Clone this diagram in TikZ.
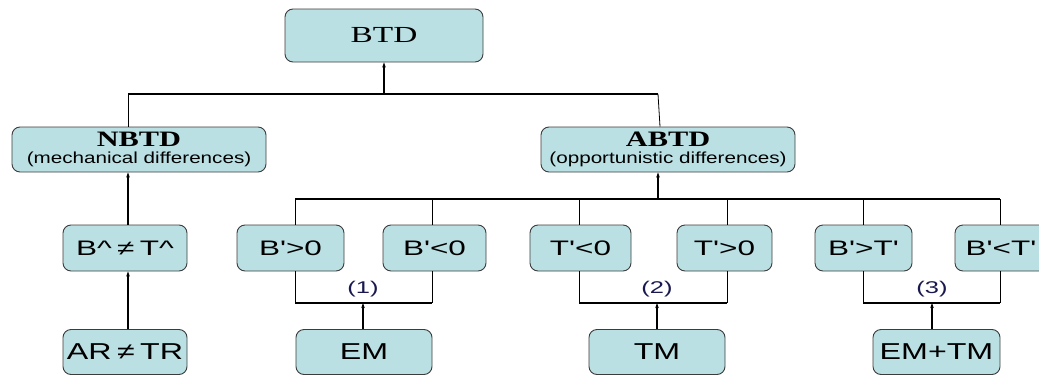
\documentclass[tikz,border=0pt]{standalone}
\usepackage{fontspec}
\setmainfont{Liberation Serif}
\setsansfont{Liberation Sans}
\usetikzlibrary{arrows.meta}
\definecolor{boxfill}{RGB}{186,224,228}
\definecolor{boxline}{RGB}{60,60,60}
\definecolor{numcol}{RGB}{25,25,80}
\newcommand{\hstr}[2]{\scalebox{#1}[1]{#2}}
\newcommand{\qt}{\textquotesingle}
\tikzset{
  box/.style={draw=boxline, fill=boxfill, rounded corners=8pt, line width=0.9pt, inner sep=0pt},
  midbox/.style={box, minimum height=46pt, font=\sffamily\fontsize{21}{24}\selectfont},
  botbox/.style={box, minimum height=45pt, font=\sffamily\fontsize{23}{26}\selectfont},
  bus/.style={line width=1.4pt},
  drop/.style={line width=0.8pt},
  arr/.style={line width=1.1pt, -{Stealth[length=5pt,width=3.5pt]}},
  numlab/.style={font=\sffamily\fontsize{17}{19}\selectfont, text=numcol, inner sep=0pt}
}
\begin{document}
\begin{tikzpicture}[x=1pt,y=-1pt]
\useasboundingbox (0,0) rectangle (1039,375);
\clip (0,0) rectangle (1039,375);
% top
\node[box, minimum width=198pt, minimum height=53pt, font=\fontsize{23}{26}\selectfont] (btd) at (384,35.5) {\hstr{1.45}{BTD}};
\node[box, minimum width=254pt, minimum height=45pt, align=center, font=\sffamily\fontsize{16}{16.5}\selectfont] (nbtd) at (139,149.5)
  {\hstr{1.38}{\rmfamily\bfseries\fontsize{22}{16}\selectfont NBTD}\\\hstr{1.29}{(mechanical differences)}};
\node[box, minimum width=254pt, minimum height=45pt, align=center, font=\sffamily\fontsize{16}{16.5}\selectfont] (abtd) at (668,149.5)
  {\hstr{1.38}{\rmfamily\bfseries\fontsize{22}{16}\selectfont ABTD}\\\hstr{1.29}{(opportunistic differences)}};
% middle row
\node[midbox, minimum width=124pt] (bhat) at (125,248) {\hstr{1.5}{B\^{}\,≠\,T\^{}}};
\node[midbox, minimum width=107pt] (bp0) at (290.5,248) {\hstr{1.5}{B\qt>0}};
\node[midbox, minimum width=103pt] (bn0) at (434.5,248) {\hstr{1.5}{B\qt<0}};
\node[midbox, minimum width=101pt] (tn0) at (580.5,248) {\hstr{1.5}{T\qt<0}};
\node[midbox, minimum width=95pt] (tp0) at (724.5,248) {\hstr{1.5}{T\qt>0}};
\node[midbox, minimum width=97pt] (bgt) at (863.5,248) {\hstr{1.5}{B\qt>T\qt}};
\node[midbox, minimum width=92pt] (blt) at (1001,248) {\hstr{1.5}{B\qt<T\qt}};
% bottom row
\node[botbox, minimum width=124pt] (artr) at (125,352) {\hstr{1.4}{AR\,≠\,TR}};
\node[botbox, minimum width=136pt] (em) at (364,352) {\hstr{1.4}{EM}};
\node[botbox, minimum width=136pt] (tm) at (657,352) {\hstr{1.4}{TM}};
\node[botbox, minimum width=127pt] (emtm) at (936.5,352) {\hstr{1.4}{EM+TM}};
% labels
\node[numlab] (l1) at (363,289) {\hstr{1.5}{(1)}};
\node[numlab] (l2) at (657,289) {\hstr{1.5}{(2)}};
\node[numlab] (l3) at (932,289) {\hstr{1.5}{(3)}};
% coordinates
\coordinate (tbl) at (128,94);
\coordinate (tbr) at (658,94);
\coordinate (tbm) at (384,94);
\coordinate (abl) at (295,199);
\coordinate (abr) at (1000,199);
\coordinate (abm) at (658,199);
\coordinate (v1) at (295,0);
\coordinate (v2) at (432,0);
\coordinate (v3) at (579,0);
\coordinate (v4) at (727,0);
\coordinate (v5) at (863,0);
\coordinate (v6) at (1000,0);
\coordinate (vn) at (128,0);
\coordinate (bk) at (0,303);
% top bus
\draw[bus] (tbl) -- (tbr);
\draw[arr] (tbm) -- (btd.south);
\draw[drop] (tbl) -- (tbl |- nbtd.north);
\draw[drop] (tbr) -- (abtd.north -| 660,0);
% NBTD chain
\draw[arr] (bhat.north -| vn) -- (nbtd.south -| vn);
\draw[arr] (artr.north -| vn) -- (bhat.south -| vn);
% ABTD bus
\draw[bus] (abl) -- (abr);
\draw[arr] (abm) -- (abtd.south -| abm);
\foreach \v/\n in {v1/bp0, v2/bn0, v3/tn0, v4/tp0, v5/bgt, v6/blt}
  \draw[drop] (\v |- abl) -- (\v |- \n.north);
% brackets
\foreach \v/\n in {v1/bp0, v2/bn0, v3/tn0, v4/tp0, v5/bgt, v6/blt}
  \draw[drop] (\v |- \n.south) -- (\v |- bk);
\draw[bus] (v1 |- bk) -- (v2 |- bk);
\draw[bus] (v3 |- bk) -- (v4 |- bk);
\draw[bus] (v5 |- bk) -- (v6 |- bk);
\draw[arr] (em.north -| l1) -- (l1 |- bk);
\draw[arr] (tm.north -| l2) -- (l2 |- bk);
\draw[arr] (emtm.north -| l3) -- (l3 |- bk);
\end{tikzpicture}
\end{document}
